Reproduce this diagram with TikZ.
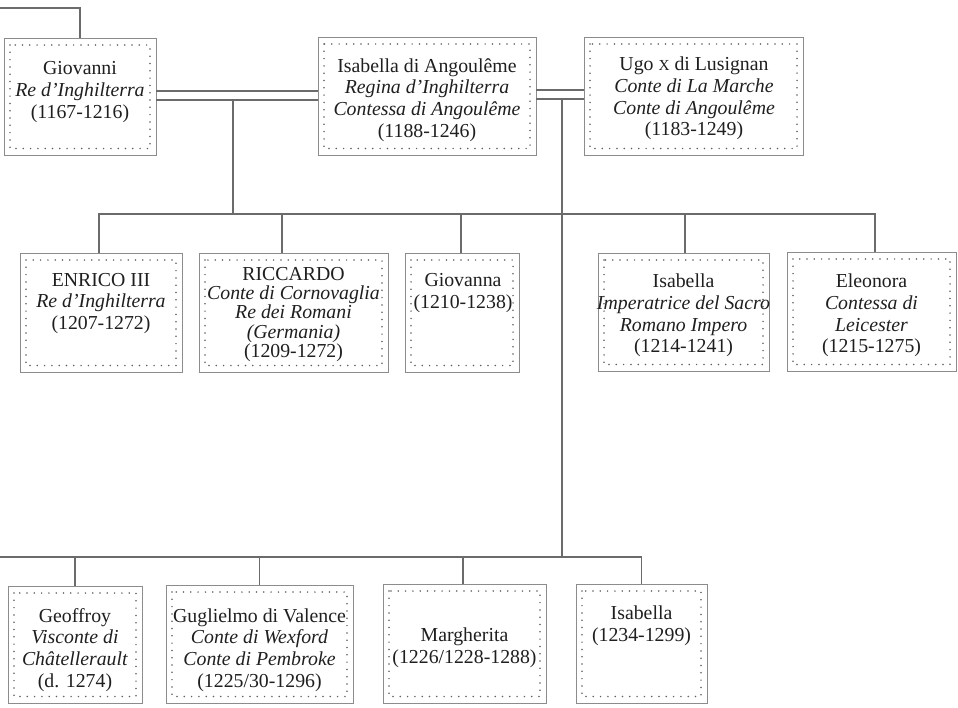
\documentclass[tikz,border=0pt]{standalone}
\usepackage{fontspec}
\setmainfont{Liberation Serif}
\usetikzlibrary{fit}
\newcommand\smallx{{\fontsize{15.3}{15.3}\selectfont X}}
\begin{document}
\begin{tikzpicture}[x=1pt,y=-1pt,
  box/.style={rectangle, draw=black!45, line width=0.8pt, inner sep=0pt,
    path picture={\draw[black!62, line width=1.7pt, line cap=round, dash pattern=on 0pt off 7.3pt]
      ([shift={(6pt,-7pt)}]path picture bounding box.north west) rectangle
      ([shift={(-6pt,6.5pt)}]path picture bounding box.south east);}},
  link/.style={draw=black!58, line width=1.7pt},
  who/.style={align=center, inner sep=0pt, text=black!88, font=\fontsize{19.8}{21.8}\selectfont},
  tight/.style={font=\fontsize{19.8}{19.4}\selectfont}]

\fill[white] (0,0) rectangle (958,707);
\useasboundingbox (0,0) rectangle (958,707);

% ---- parents ----
\node[box, fit={(4,38) (156,155)}] (giovanni) {};
\node[box, fit={(318,37) (536,155)}] (isabellaA) {};
\node[box, fit={(584,37) (803,155)}] (ugo) {};

\node[who] (giovanni-t) at (80,92) {Giovanni\\\textit{Re d'Inghilterra}\\(1167-1216)};
\node[who] (isabellaA-t) at (427,100) {Isabella di Angoulême\\\textit{Regina d'Inghilterra}\\\textit{Contessa di Angoulême}\\(1188-1246)};
\node[who] (ugo-t) at (694,98.5) {Ugo \smallx{} di Lusignan\\\textit{Conte di La Marche}\\\textit{Conte di Angoulême}\\(1183-1249)};

% ---- children of Giovanni ----
\node[box, fit={(20,253) (182,372)}] (enrico) {};
\node[box, fit={(199,253) (388,372)}] (riccardo) {};
\node[box, fit={(405,253) (519,372)}] (giovanna) {};
\node[box, fit={(598,253) (769,371)}] (isabellaB) {};
\node[box, fit={(787,252) (956,371)}] (eleonora) {};

\node[who] (enrico-t) at (101,303.5) {ENRICO III\\\textit{Re d'Inghilterra}\\(1207-1272)};
\node[who, tight] (riccardo-t) at (293.5,314.5) {RICCARDO\\\textit{Conte di Cornovaglia}\\\textit{Re dei Romani}\\\textit{(Germania)}\\(1209-1272)};
\node[who] (giovanna-t) at (463,293) {Giovanna\\(1210-1238)};
\node[who] (isabellaB-t) at (683.5,315.5) {Isabella\\\textit{Imperatrice del Sacro}\\\textit{Romano Impero}\\(1214-1241)};
\node[who] (eleonora-t) at (871.5,315.5) {Eleonora\\\textit{Contessa di}\\\textit{Leicester}\\(1215-1275)};

% ---- children of Ugo ----
\node[box, fit={(8,586) (142,703)}] (geoffroy) {};
\node[box, fit={(166,585) (353,703)}] (guglielmo) {};
\node[box, fit={(383,584) (546,703)}] (margherita) {};
\node[box, fit={(576,584) (707,703)}] (isabellaC) {};

\node[who] (geoffroy-t) at (75,650) {Geoffroy\\\textit{Visconte di}\\\textit{Châtellerault}\\(d. 1274)};
\node[who] (guglielmo-t) at (259.5,650) {Guglielmo di Valence\\\textit{Conte di Wexford}\\\textit{Conte di Pembroke}\\(1225/30-1296)};
\node[who] (margherita-t) at (464.5,647.5) {Margherita\\(1226/1228-1288)};
\node[who] (isabellaC-t) at (641.5,626) {Isabella\\(1234-1299)};

% ---- connector levels ----
\coordinate (wedAup) at (0,91);
\coordinate (wedAlo) at (0,100);
\coordinate (wedBup) at (0,90);
\coordinate (wedBlo) at (0,99);
\coordinate (rowA) at (0,214);
\coordinate (rowB) at (0,557);
\coordinate (ancestor) at (0,8);
\coordinate (stemA) at (233,100);
\coordinate (stemB) at (562,99);
\coordinate (rowAend) at (875,214);

% line from Giovanni's own parents
\draw[link] (ancestor) -| (giovanni.north);

% marriages
\draw[link] (giovanni.east |- wedAup) -- (isabellaA.west |- wedAup);
\draw[link] (giovanni.east |- wedAlo) -- (isabellaA.west |- wedAlo);
\draw[link] (isabellaA.east |- wedBup) -- (ugo.west |- wedBup);
\draw[link] (isabellaA.east |- wedBlo) -- (ugo.west |- wedBlo);

% first family
\draw[link] (stemA) -- (stemA |- rowA);
\draw[link] ([xshift=-2pt]enrico.north) -- ([xshift=-2pt]enrico.north |- rowA) -- (rowAend) -- ([xshift=3.5pt]eleonora.north);
\draw[link] ([xshift=-11.5pt]riccardo.north) -- ([xshift=-11.5pt]riccardo.north |- rowA);
\draw[link] ([xshift=-1pt]giovanna.north) -- ([xshift=-1pt]giovanna.north |- rowA);
\draw[link] ([xshift=1.5pt]isabellaB.north) -- ([xshift=1.5pt]isabellaB.north |- rowA);

% second family
\draw[link] (stemB) -- (stemB |- rowB);
\draw[link] (rowB) -- (isabellaC.north |- rowB) -- (isabellaC.north);
\draw[link] (geoffroy.north |- rowB) -- (geoffroy.north);
\draw[link] (guglielmo.north |- rowB) -- (guglielmo.north);
\draw[link] ([xshift=-1.5pt]margherita.north |- rowB) -- ([xshift=-1.5pt]margherita.north);
\end{tikzpicture}
\end{document}
